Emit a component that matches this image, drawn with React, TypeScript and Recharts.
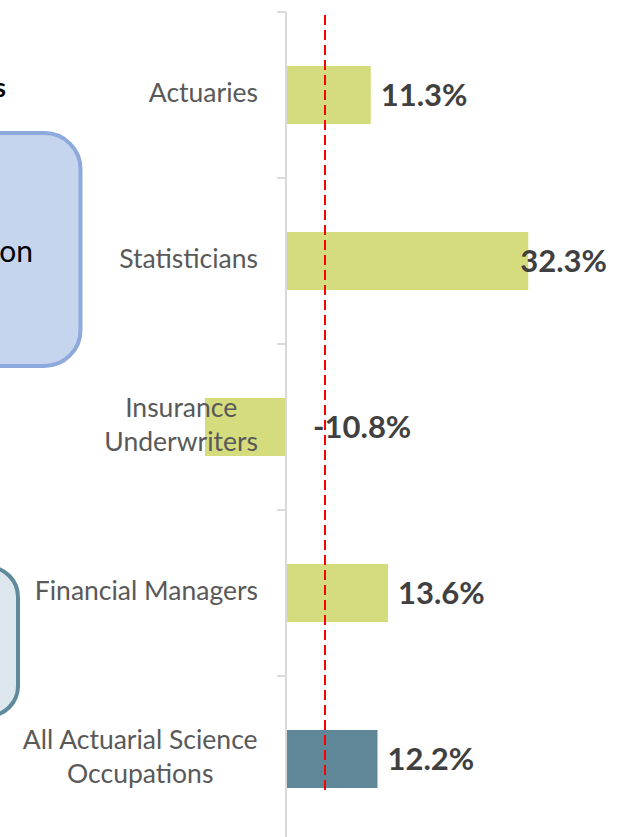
import React from "react";
import { BarChart, Bar, XAxis, YAxis, Cell, LabelList, ReferenceLine } from "recharts";

// values (projected growth, %)
const occupations = [
  "Actuaries",
  "Statisticians",
  "Insurance\nUnderwriters",
  "Financial Managers",
  "All Actuarial Science\nOccupations",
];
const growth = [11.3, 32.3, -10.8, 13.6, 12.2];
const barColors = ["#D5DC7D", "#D5DC7D", "#D5DC7D", "#D5DC7D", "#5F8797"];
const averageGrowth = 5.2;
const xDomain: [number, number] = [-20, 40];

const data = occupations.map((name, i) => ({ name, growth: growth[i] }));

const CHART_W = 628;
const CHART_H = 860;
const MARGIN = { top: 12, right: 42, bottom: 18, left: 136 };
const BAND = (CHART_H - MARGIN.top - MARGIN.bottom) / occupations.length;

const FONT = "Lato";
const CAT_SIZE = 26.5;
const VAL_SIZE = 31;
const LINE_H = 34.5;
const AXIS_GRAY = "#D9D9D9";

let ctx: CanvasRenderingContext2D | null = null;
function textWidth(text: string, font: string) {
  if (!ctx) ctx = document.createElement("canvas").getContext("2d");
  if (!ctx) return text.length * 12;
  ctx.font = font;
  return ctx.measureText(text).width;
}

// bar box from label props (recharts may pass a viewBox or flat coords)
function barBox(props: any) {
  const vb = props.viewBox && props.viewBox.width !== undefined ? props.viewBox : props;
  const x = Number(vb.x);
  const w = Number(vb.width);
  return {
    left: Math.min(x, x + w),
    right: Math.max(x, x + w),
    cy: Number(vb.y) + Number(vb.height) / 2,
  };
}

function CategoryLabel(props: any) {
  const { left, right, cy } = barBox(props);
  const index = props.index ?? 0;
  const zeroX = growth[index] < 0 ? right : left;
  const lines = String(props.value).split("\n");
  const font = `${CAT_SIZE}px ${FONT}`;
  const maxW = Math.max(...lines.map((l) => textWidth(l, font)));
  const cx = zeroX - 28 - maxW / 2;
  const first = cy + 7 - ((lines.length - 1) * LINE_H) / 2;
  const bandTop = cy - BAND / 2;
  return (
    <g>
      <line x1={zeroX - 9} x2={zeroX} y1={bandTop} y2={bandTop} stroke={AXIS_GRAY} strokeWidth={2} />
      {index === occupations.length - 1 && (
        <line x1={zeroX - 9} x2={zeroX} y1={bandTop + BAND} y2={bandTop + BAND} stroke={AXIS_GRAY} strokeWidth={2} />
      )}
      <text textAnchor="middle" fill="#595959" fontFamily={FONT} fontSize={CAT_SIZE}>
        {lines.map((l, i) => (
          <tspan key={i} x={cx} y={first + i * LINE_H}>
            {l}
          </tspan>
        ))}
      </text>
    </g>
  );
}

function ValueLabel(props: any) {
  const { left, right, cy } = barBox(props);
  const v = Number(props.value);
  const text = `${v.toFixed(1)}%`;
  const w = textWidth(text, `bold ${VAL_SIZE}px ${FONT}`);
  const tx = v < 0 ? right + 27 : Math.min(right + 10, CHART_W - 21 - w);
  return (
    <text x={tx} y={cy + 11} fill="#404040" fontFamily={FONT} fontWeight="bold" fontSize={VAL_SIZE}>
      {text}
    </text>
  );
}

// dashed average line, stops a little above the plot bottom
function RedLine(props: any) {
  const top = Math.min(props.y1, props.y2);
  const bottom = Math.max(props.y1, props.y2);
  return (
    <line
      x1={props.x1}
      x2={props.x2}
      y1={top + 3}
      y2={bottom - 49}
      stroke="#FF0000"
      strokeWidth={2}
      strokeDasharray="10 5"
    />
  );
}

export default function App() {
  return (
    <div
      style={{
        position: "fixed",
        left: 0,
        top: 0,
        width: 628,
        height: 837,
        overflow: "hidden",
        background: "#fff",
      }}
    >
      {/* pieces of the surrounding infographic */}
      <svg width={628} height={837} style={{ position: "absolute", left: 0, top: 0 }}>
        <text x={6} y={97} textAnchor="end" fontFamily={FONT} fontWeight="bold" fontSize={26} fill="#000">
          s
        </text>
        <rect x={-200} y={133} width={280.5} height={233} rx={36} fill="#C6D5EE" stroke="#8EA9DB" strokeWidth={4} />
        <text x={33} y={262} textAnchor="end" fontFamily={FONT} fontSize={30} fill="#000">
          on
        </text>
        <rect x={-200} y={567} width={218} height={149} rx={30} fill="#DDE8EE" stroke="#5E8A9C" strokeWidth={4} />
      </svg>
      <div style={{ position: "absolute", left: 0, top: 0 }}>
        <BarChart width={CHART_W} height={CHART_H} data={data} layout="vertical" margin={MARGIN} barSize={58}>
          <XAxis type="number" domain={xDomain} hide />
          <YAxis type="category" dataKey="name" hide />
          <ReferenceLine x={0} stroke={AXIS_GRAY} strokeWidth={2} />
          <Bar dataKey="growth" isAnimationActive={false}>
            {data.map((d, i) => (
              <Cell key={d.name} fill={barColors[i]} />
            ))}
            <LabelList dataKey="name" content={CategoryLabel} />
            <LabelList dataKey="growth" content={ValueLabel} />
          </Bar>
          <ReferenceLine x={averageGrowth} shape={RedLine} />
        </BarChart>
      </div>
    </div>
  );
}
